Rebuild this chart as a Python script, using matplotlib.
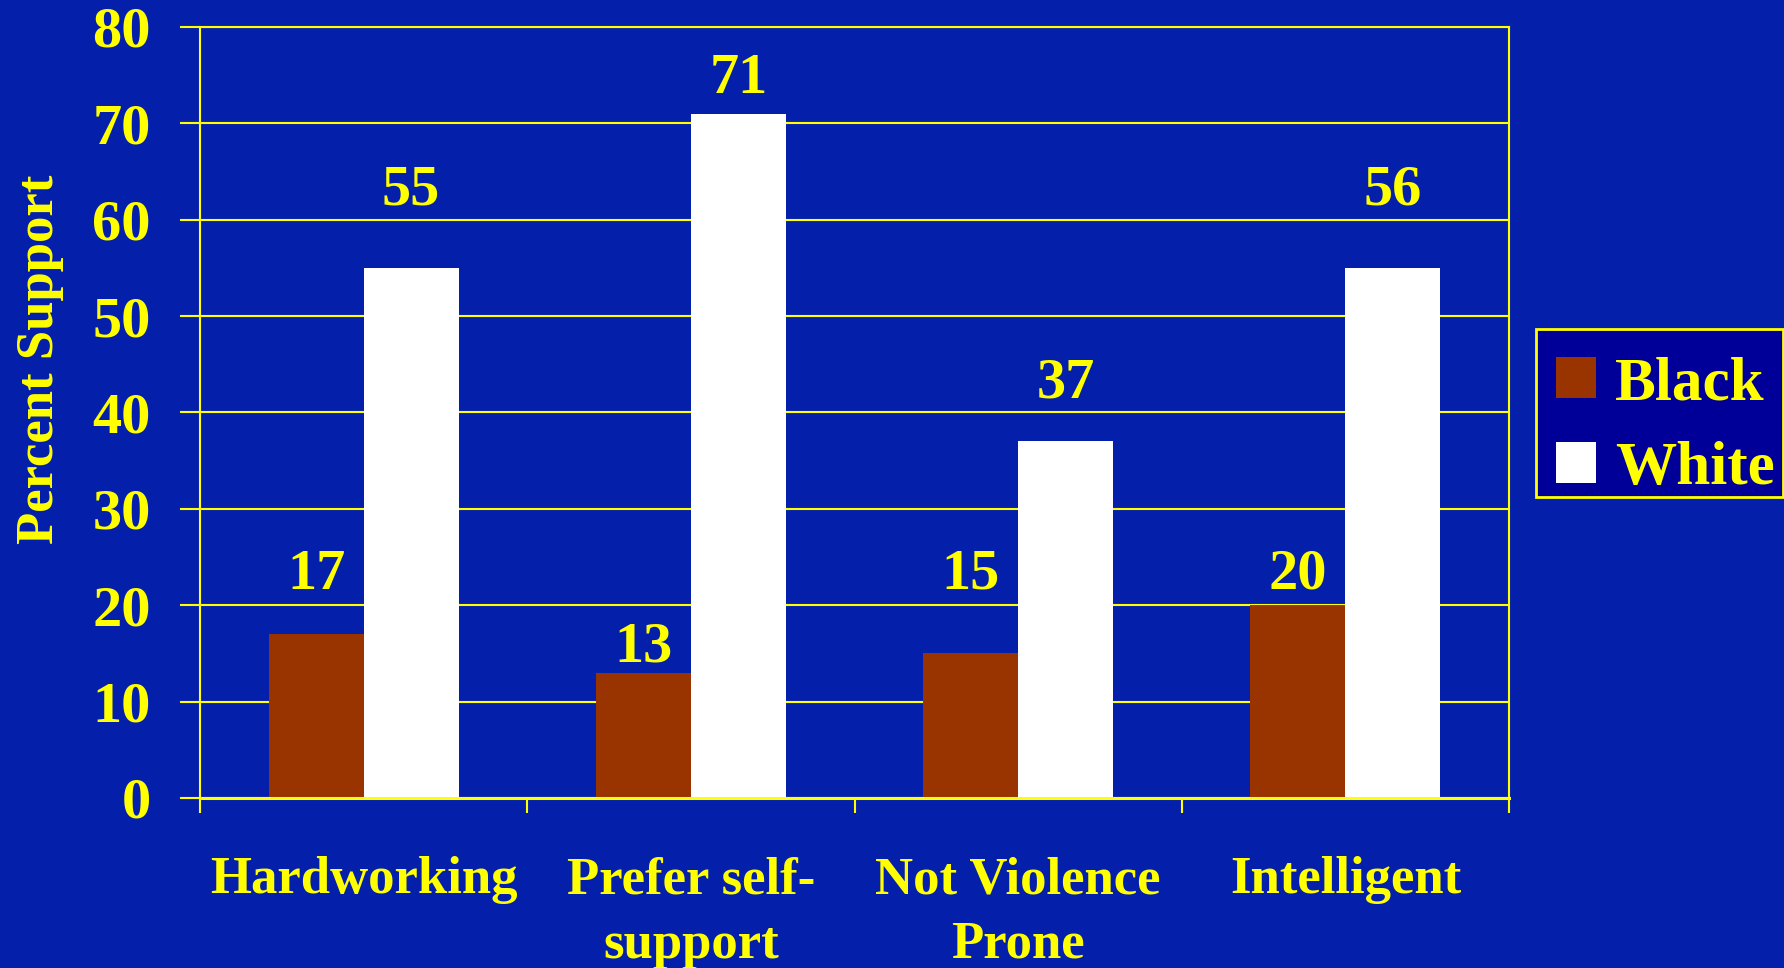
import matplotlib
matplotlib.use("Agg")
import matplotlib.pyplot as plt
from matplotlib.patches import Rectangle
import numpy as np

categories = ["Hardworking", "Prefer self-\nsupport", "Not Violence\nProne", "Intelligent"]
black_values = [17, 13, 15, 20]
white_values = [55, 71, 37, 55]
black_labels = ["17", "13", "15", "20"]
white_labels = ["55", "71", "37", "56"]
# baseline heights (data units) where the value labels sit
black_label_y = [21.7, 14.2, 21.7, 21.7]
white_label_y = [61.6, 73.1, 41.6, 61.6]
yticks = [0, 10, 20, 30, 40, 50, 60, 70, 80]

BG = "#0420AA"
LEG_BG = "#000099"
YEL = "#FFFF00"
BROWN = "#993300"
FONT = "Liberation Serif"
W, H = 1784, 968

plt.rcParams["font.family"] = [FONT, "DejaVu Serif"]
plt.rcParams["font.weight"] = "bold"

fig = plt.figure(figsize=(W / 100, H / 100), dpi=100, facecolor=BG)
ax = fig.add_axes([200 / W, 1 - 798 / H, 1309 / W, 771 / H])
ax.set_facecolor(BG)

x = np.arange(len(categories))
w = 0.29
ax.bar(x - w / 2, black_values, w, color=BROWN, zorder=2, label="Black")
ax.bar(x + w / 2, white_values, w, color="white", zorder=2, label="White")

for i in range(len(categories)):
    ax.text(x[i] - w / 2, black_label_y[i], black_labels[i], ha="center", va="baseline",
            color=YEL, fontsize=42, fontweight="bold", zorder=4)
    ax.text(x[i] + w / 2, white_label_y[i], white_labels[i], ha="center", va="baseline",
            color=YEL, fontsize=42, fontweight="bold", zorder=4)

ax.set_xlim(-0.5, len(categories) - 0.5)
ax.set_ylim(0, 80)
ax.set_yticks(yticks)
ax.set_yticklabels([str(t) for t in yticks])
ax.yaxis.grid(True, color=YEL, linewidth=1.5, zorder=0)
ax.set_axisbelow(True)

ax.set_xticks(np.arange(-0.5, len(categories), 1.0))
ax.set_xticklabels([])
ax.set_xticks(x, minor=True)
ax.set_xticklabels(categories, minor=True, fontsize=38, fontweight="bold",
                   color=YEL, linespacing=1.45)
ax.tick_params(axis="x", which="major", direction="out", length=11, width=1.5, color=YEL)
ax.tick_params(axis="x", which="minor", length=0, pad=42)
ax.tick_params(axis="y", direction="out", length=14.4, width=1.5, color=YEL,
               labelsize=42, labelcolor=YEL, pad=21)
for lab in ax.get_yticklabels():
    lab.set_fontweight("bold")

for side in ["left", "right", "top"]:
    ax.spines[side].set_color(YEL)
    ax.spines[side].set_linewidth(1.5)
ax.spines["bottom"].set_color(YEL)
ax.spines["bottom"].set_linewidth(2.2)
ax.spines["bottom"].set_zorder(3)

fig.text(40 / W, 1 - 359 / H, "Percent Support", rotation=90, ha="center", va="center",
         fontsize=38, fontweight="bold", color=YEL)

# legend frame
frame = Rectangle((1536 / W, 1 - 497 / H), (1783 - 1536) / W, (497 - 329) / H,
                  transform=fig.transFigure, facecolor=LEG_BG, edgecolor=YEL,
                  linewidth=2, zorder=2)
fig.add_artist(frame)
handles, labels = ax.get_legend_handles_labels()
leg = fig.legend(handles, labels, loc="upper left", bbox_to_anchor=(1556 / W, 1 - 356 / H),
                 bbox_transform=fig.transFigure, borderaxespad=0, borderpad=0,
                 prop={"family": FONT, "weight": "bold", "size": 44},
                 handlelength=0.655, handleheight=0.655, handletextpad=0.31,
                 labelspacing=0.47, frameon=False)
leg.set_zorder(5)
for t in leg.get_texts():
    t.set_color(YEL)

fig.savefig("out.png", dpi=100, facecolor=BG)
